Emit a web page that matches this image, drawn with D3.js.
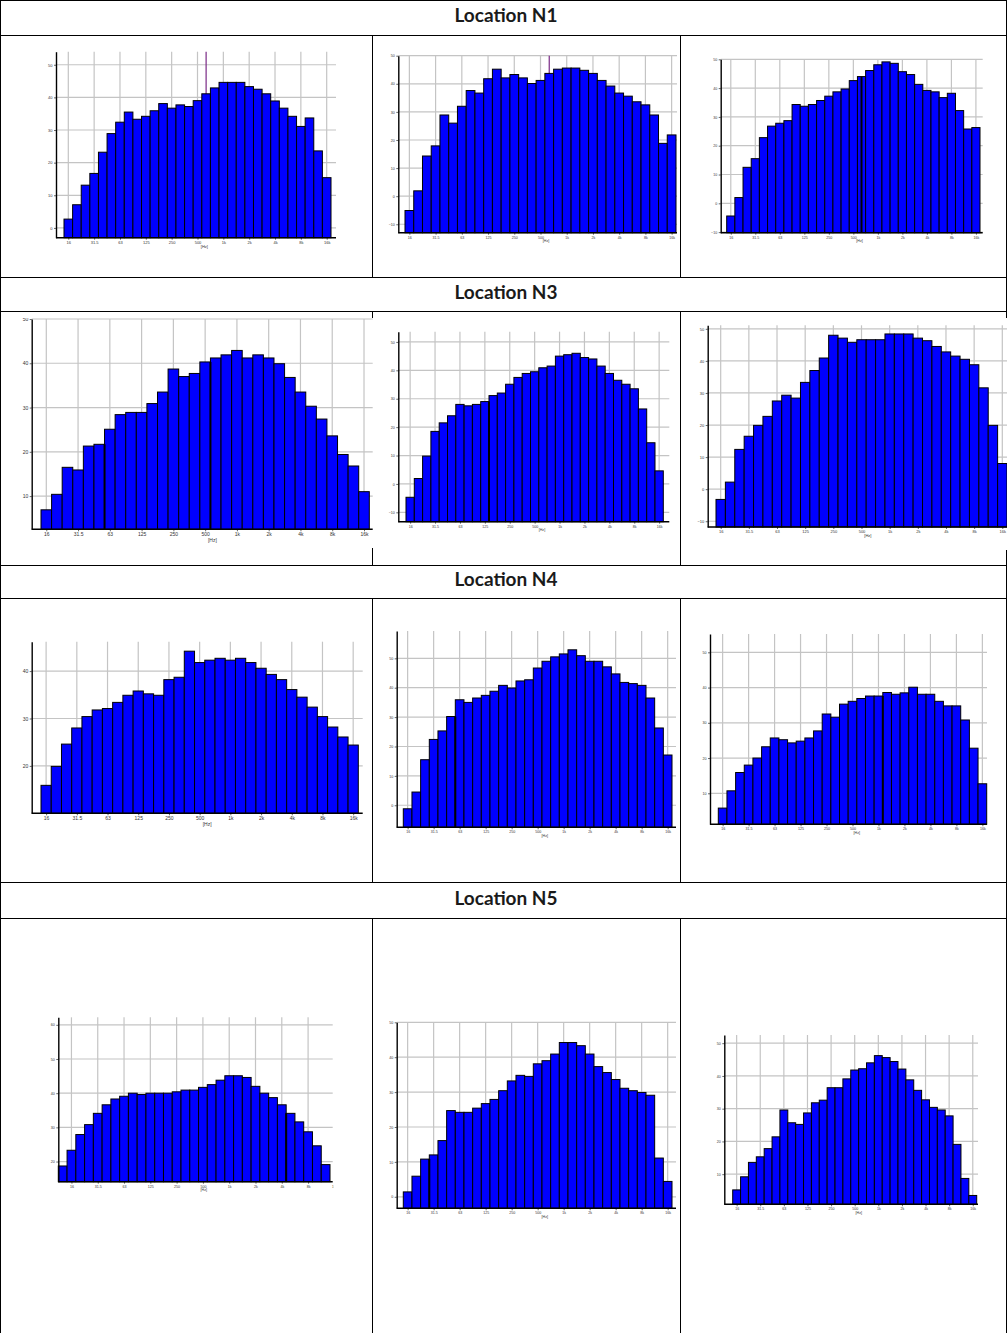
<!DOCTYPE html>
<html lang="en">
<head>
<meta charset="utf-8">
<title>Locations</title>
<style>
body { margin: 0; background: #fff; }
svg { display: block; }
.head { font-family: Lato, "Open Sans", sans-serif; font-weight: bold; font-size: 19px; fill: #1a1a1a; text-anchor: middle; }
.tbl line { stroke: #000; stroke-width: 1; shape-rendering: crispEdges; }
.grid line { stroke: #c4c4c4; stroke-width: 1.2; }
.bar { fill: #0000ff; stroke: #000; stroke-width: 1; }
.axis path, .axis line { stroke: #000; }
.axis text, .unit { font-family: "Liberation Sans", Arial, sans-serif; fill: #333; }
</style>
</head>
<body>
<div id="chart"></div>
<script src="https://d3js.org/d3.v7.min.js"></script>
<script>
// 1/3 octave bands, 12.5 Hz .. 16 kHz
var bands = ["12.5","16","20","25","31.5","40","50","63","80","100","125","160","200","250","315","400","500","630","800","1k","1.25k","1.6k","2k","2.5k","3.15k","4k","5k","6.3k","8k","10k","12.5k","16k"];
var octaveTicks = ["16","31.5","63","125","250","500","1k","2k","4k","8k","16k"];
var locations = ["Location N1", "Location N3", "Location N4", "Location N5"];

// levels per band
var n1a = [2.7,7.1,13.1,16.7,23.2,28.9,32.4,35.5,33.3,34.2,35.9,38.1,36.7,37.7,37.2,39.0,41.1,42.9,44.6,44.6,44.6,43.3,42.5,41.1,38.9,36.7,34.2,31.1,33.7,23.6,15.4];
var n1b = [-5.1,1.9,14.3,17.9,28.9,26.0,32.0,37.6,36.7,41.8,45.2,42.1,43.3,42.1,40.1,41.2,43.7,45.2,45.6,45.6,44.8,43.7,41.2,39.2,36.7,35.6,33.6,32.5,28.9,18.8,21.8];
var n1c = [-4.4,2.0,12.5,15.5,22.8,26.8,27.8,28.7,34.3,33.7,34.3,35.7,37.2,38.7,39.7,42.6,44.0,46.1,48.1,49.1,48.6,45.7,44.7,41.3,39.2,38.7,36.7,38.2,32.2,25.8,26.3];
var n3a = [6.9,10.4,16.5,15.9,21.3,21.7,25.1,28.4,28.9,28.9,30.9,33.5,38.7,37.0,37.7,40.3,41.2,41.9,42.9,41.2,41.9,41.2,39.9,36.8,33.5,30.3,27.4,23.6,19.4,16.8,11.0];
var n3b = [-4.7,1.9,9.8,18.5,21.5,24.0,28.0,27.5,28.0,29.0,31.1,32.0,35.1,37.5,38.9,39.5,40.9,41.5,45.0,45.5,46.0,44.5,44.0,41.5,38.9,36.5,35.1,33.5,26.4,14.5,4.6];
var n3c = [-3.2,2.2,12.4,16.5,19.9,22.7,27.5,29.3,28.4,33.3,37.0,40.9,48.0,47.1,45.8,46.6,46.6,46.6,48.4,48.4,48.4,47.1,46.3,44.5,42.8,41.5,40.5,38.8,31.6,19.9,8.0];
var n4a = [15.9,19.9,24.6,28.0,30.4,31.8,32.1,33.4,34.9,35.8,35.2,34.9,38.2,38.7,44.2,41.8,42.3,42.7,42.3,42.7,41.8,40.6,39.3,38.2,36.1,34.5,32.4,30.4,28.2,26.1,24.4];
var n4b = [-1.2,4.5,15.5,22.4,25.3,30.2,35.9,35.0,36.5,37.4,38.8,40.8,39.9,42.3,42.7,46.7,49.0,50.5,51.5,52.9,50.9,49.0,49.0,47.1,44.7,41.8,41.4,40.8,36.5,26.3,17.1];
var n4c = [5.8,10.7,15.9,18.0,20.0,23.2,25.7,25.2,24.3,24.8,25.7,27.7,32.5,31.6,35.3,36.1,36.9,37.6,37.6,38.6,38.1,38.5,40.1,38.1,38.1,36.1,34.8,34.8,30.8,22.8,12.7];
var n5a = [18.7,23.3,27.9,30.8,34.1,36.6,38.3,39.1,40.0,39.6,40.0,40.0,40.0,40.4,40.9,40.9,41.7,42.5,43.8,45.1,45.1,44.6,42.0,40.0,38.7,36.6,34.1,31.6,28.7,24.6,19.1];
var n5b = [1.4,5.9,10.8,12.0,16.1,24.7,24.2,24.2,25.4,26.7,27.9,30.4,33.2,34.8,34.5,38.1,39.0,40.9,44.2,44.2,43.3,40.9,37.3,35.6,33.6,31.1,30.4,29.9,29.1,11.1,4.4];
var n5c = [5.2,9.2,13.6,15.3,17.8,21.4,29.6,25.7,25.2,28.7,31.8,32.6,36.4,36.4,39.1,41.8,42.2,44.0,46.2,45.6,44.4,42.1,38.8,35.6,32.7,30.4,29.6,27.8,19.1,8.7,3.5];

// y axis ticks
var ticksA = [0,10,20,30,40,50];
var ticksB = [-10,0,10,20,30,40,50];
var ticksC = [10,20,30,40,50];
var ticksD = [20,30,40];
var ticksE = [20,30,40,50,60];

var W = 1007, H = 1333;
var headTop = [0, 277, 565, 882];
var headBot = [35, 311, 598, 918];
var rowEnd = [277, 565, 882, 1333];
var colX = [372, 680];

// chart placement (page px); heavy = bar edges drawn darker in the source images
var charts = [
  {vals: n1a, first: 1, dom: [-3, 54], ticks: ticksA, ax: 56, bl: 64, br: 331, pr: 336, top: 51.7, bot: 237.7, fs: 4, cursor: 17, box: [30, 40, 345, 258]},
  {vals: n1b, first: 1, dom: [-13, 50], ticks: ticksB, ax: 398.3, bl: 405, br: 676, pr: 677, top: 55.7, bot: 232.7, fs: 3.6, cursor: 17, box: [378, 40, 679, 258]},
  {vals: n1c, first: 1, dom: [-10.2, 50], ticks: ticksB, ax: 720.7, bl: 726.7, br: 980, pr: 982.7, top: 59.3, bot: 232.7, fs: 3.6, heavy: [16.5], box: [685, 40, 1005, 258]},
  {vals: n3a, first: 1, dom: [2.5, 50], ticks: ticksC, ax: 31.7, bl: 41, br: 369.3, pr: 372.7, top: 319, bot: 529.3, fs: 5, heavy: [6, 16], box: [5, 318, 376, 548]},
  {vals: n3b, first: 1, dom: [-13.3, 53.6], ticks: ticksB, ax: 398.3, bl: 406, br: 663.3, pr: 669.3, top: 331.7, bot: 521.7, fs: 3.6, heavy: [10], box: [378, 318, 679, 548]},
  {vals: n3c, first: 1, dom: [-11.8, 51.1], ticks: ticksB, ax: 707.7, bl: 716, br: 1007, pr: 1010, top: 325.3, bot: 527, fs: 4, box: [685, 318, 1007, 550]},
  {vals: n4a, first: 1, dom: [10, 46.2], ticks: ticksD, ax: 31.7, bl: 41, br: 358.3, pr: 362.7, top: 641.7, bot: 813.3, fs: 5, box: [5, 605, 370, 860]},
  {vals: n4b, first: 1, dom: [-7.5, 59.3], ticks: ticksA, ax: 396.7, bl: 403.3, br: 672, pr: 676, top: 631, bot: 827.3, fs: 3.6, heavy: [6], box: [378, 605, 679, 860]},
  {vals: n4c, first: 1, dom: [1.2, 55.2], ticks: ticksC, ax: 710, bl: 718.3, br: 986.7, pr: 987, top: 634, bot: 824.3, fs: 3.6, heavy: [19], box: [685, 605, 1005, 860]},
  {vals: n5a, first: 0, dom: [14.1, 62.2], ticks: ticksE, ax: 58.3, bl: 58.3, br: 330, pr: 332.7, top: 1017.3, bot: 1181.7, fs: 3.6, heavy: [26], box: [5, 925, 333.5, 1300]},
  {vals: n5b, first: 1, dom: [-3.3, 50], ticks: ticksA, ax: 396.7, bl: 403.3, br: 672, pr: 676, top: 1022.3, bot: 1208.3, fs: 3.6, heavy: [3], box: [378, 925, 679, 1300]},
  {vals: n5c, first: 1, dom: [0.8, 52.5], ticks: ticksC, ax: 724.3, bl: 732.7, br: 976.7, pr: 978, top: 1035, bot: 1204.3, fs: 3.6, box: [685, 925, 1005, 1300]}
];

var svg = d3.select("#chart").append("svg")
  .attr("width", W)
  .attr("height", H);

svg.append("rect").attr("width", W).attr("height", H).attr("fill", "#fff");

// table lines and headers
var tbl = svg.append("g").attr("class", "tbl");
tbl.append("line").attr("x1", 0.5).attr("x2", 0.5).attr("y1", 0).attr("y2", H);
tbl.append("line").attr("x1", W - 0.5).attr("x2", W - 0.5).attr("y1", 0).attr("y2", H);

locations.forEach(function(name, i) {
  [headTop[i], headBot[i]].forEach(function(y) {
    tbl.append("line").attr("x1", 0).attr("x2", W).attr("y1", y + 0.5).attr("y2", y + 0.5);
  });
  colX.forEach(function(x) {
    tbl.append("line").attr("x1", x + 0.5).attr("x2", x + 0.5).attr("y1", headBot[i]).attr("y2", rowEnd[i]);
  });
  svg.append("text").attr("class", "head")
    .attr("x", 506)
    .attr("y", (headTop[i] + headBot[i]) / 2 - 2)
    .attr("dy", "0.35em")
    .text(name);
});

charts.forEach(function(c, k) {
  var b = c.box;
  svg.append("clipPath").attr("id", "clip" + k)
    .append("rect").attr("x", b[0]).attr("y", b[1]).attr("width", b[2] - b[0]).attr("height", b[3] - b[1]);

  var g = svg.append("g").attr("clip-path", "url(#clip" + k + ")");
  g.append("rect").attr("x", b[0]).attr("y", b[1]).attr("width", b[2] - b[0]).attr("height", b[3] - b[1]).attr("fill", "#fff");

  var n = c.vals.length;
  var x = d3.scaleLinear().domain([c.first - 0.5, c.first + n - 0.5]).range([c.bl, c.br]);
  var y = d3.scaleLinear().domain(c.dom).range([c.bot, c.top]);
  var tickIdx = octaveTicks.map(function(t) { return bands.indexOf(t); });

  // grid
  var grid = g.append("g").attr("class", "grid");
  grid.selectAll("line.h").data(c.ticks).join("line").attr("class", "h")
    .attr("x1", c.ax).attr("x2", c.pr)
    .attr("y1", function(d) { return y(d); }).attr("y2", function(d) { return y(d); });
  grid.selectAll("line.v").data(tickIdx.filter(function(i) { return x(i) < c.pr; })).join("line").attr("class", "v")
    .attr("x1", function(d) { return x(d); }).attr("x2", function(d) { return x(d); })
    .attr("y1", c.top).attr("y2", c.bot);

  if (c.cursor != null) {
    g.append("line")
      .attr("x1", x(c.cursor)).attr("x2", x(c.cursor))
      .attr("y1", c.top).attr("y2", c.bot)
      .attr("stroke", "#7a2a86").attr("stroke-width", 1.2);
  }

  // bars
  g.append("g").selectAll("rect").data(c.vals).join("rect")
    .attr("class", "bar")
    .attr("x", function(d, i) { return x(c.first + i - 0.5); })
    .attr("width", function(d, i) { return x(c.first + i + 0.5) - x(c.first + i - 0.5); })
    .attr("y", function(d) { return y(d); })
    .attr("height", function(d) { return c.bot - y(d); });

  // darker bar edges
  (c.heavy || []).forEach(function(e) {
    var lo = Math.floor(e - 0.01), hi = Math.ceil(e - 0.01);
    var v = Math.min(c.vals[Math.max(lo, 0)], c.vals[Math.min(hi, n - 1)]);
    if (e % 1 !== 0) v = c.vals[Math.floor(e)];
    g.append("line")
      .attr("x1", x(c.first + e - 0.5)).attr("x2", x(c.first + e - 0.5))
      .attr("y1", y(v)).attr("y2", c.bot)
      .attr("stroke", "#000").attr("stroke-width", 2);
  });

  // x axis
  var xa = g.append("g").attr("class", "axis")
    .attr("transform", "translate(0," + c.bot + ")")
    .call(d3.axisBottom(x).tickValues(tickIdx).tickFormat(function(i) { return bands[i]; })
      .tickSize(2).tickSizeOuter(0).tickPadding(1.5));
  xa.select(".domain").remove();
  xa.selectAll("text").style("font-size", c.fs + "px");
  xa.selectAll("line").attr("stroke-width", 0.6);
  g.append("line").attr("x1", c.ax).attr("x2", c.pr).attr("y1", c.bot).attr("y2", c.bot)
    .attr("stroke", "#000").attr("stroke-width", 1.4);

  // y axis
  var ya = g.append("g").attr("class", "axis")
    .attr("transform", "translate(" + c.ax + ",0)")
    .call(d3.axisLeft(y).tickValues(c.ticks).tickSize(2).tickSizeOuter(0).tickPadding(1.5));
  ya.select(".domain").attr("stroke-width", 1.4);
  ya.selectAll("line").attr("stroke-width", 0.6);
  ya.selectAll("text").style("font-size", c.fs + "px");

  g.append("text").attr("class", "unit")
    .attr("x", (c.ax + c.pr) / 2 + 0.03 * (c.pr - c.ax))
    .attr("y", c.bot + c.fs * 2.6)
    .attr("text-anchor", "middle")
    .style("font-size", c.fs + "px")
    .text("[Hz]");
});
</script>
</body>
</html>
